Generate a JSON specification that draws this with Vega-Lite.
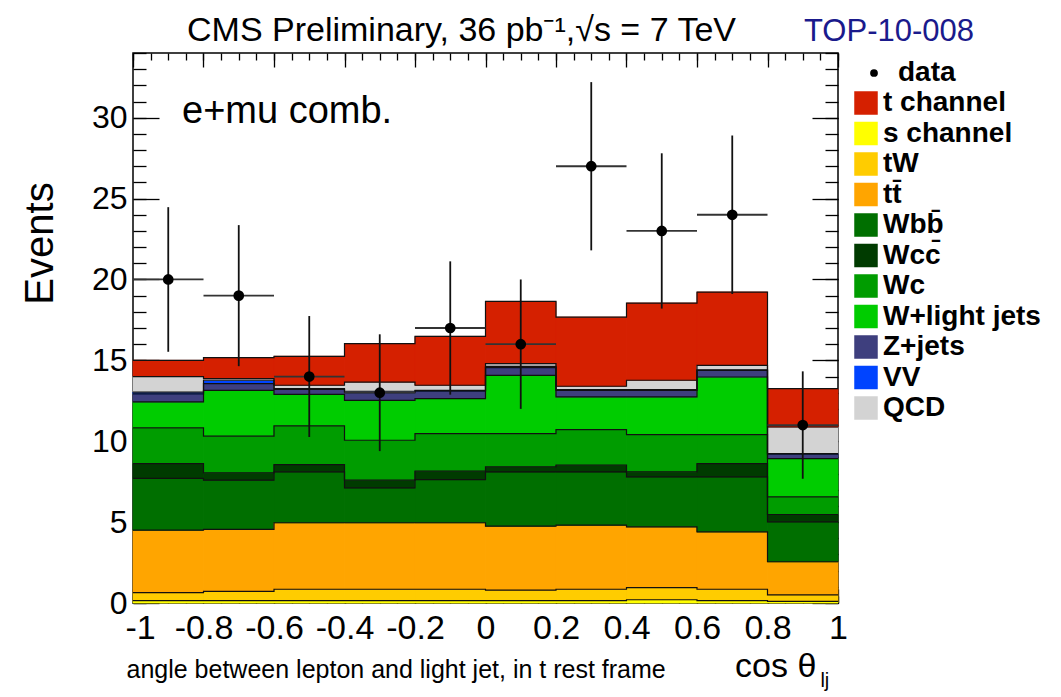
{
  "$schema": "https://vega.github.io/schema/vega-lite/v6.json",
  "width": 705,
  "height": 550,
  "autosize": {"type": "none"},
  "padding": {"left": 133, "top": 53, "right": 223, "bottom": 94},
  "background": "white",
  "config": {
    "view": {"stroke": "black", "strokeWidth": 1.5},
    "font": "Liberation Sans",
    "axis": {"grid": false, "domain": false, "tickColor": "black", "tickWidth": 1.3, "labelColor": "black", "titleColor": "black", "labelFont": "Liberation Sans", "titleFont": "Liberation Sans", "titleFontWeight": "normal", "labelFlush": false, "labelOverlap": false}
  },
  "datasets": {
    "mc": [
      {"lo": -1, "hi": -0.8, "s": 0.15, "tW": 0.49, "tt": 3.86, "Wbb": 3.20, "Wcc": 0.92, "Wc": 2.20, "Wl": 1.61, "Z": 0.50, "VV": 0.11, "QCD": 0.96, "t": 1.00},
      {"lo": -0.8, "hi": -0.6, "s": 0.15, "tW": 0.57, "tt": 3.83, "Wbb": 3.04, "Wcc": 0.45, "Wc": 2.27, "Wl": 2.84, "Z": 0.41, "VV": 0.21, "QCD": 0.10, "t": 1.30},
      {"lo": -0.6, "hi": -0.4, "s": 0.15, "tW": 0.70, "tt": 4.11, "Wbb": 3.15, "Wcc": 0.45, "Wc": 2.39, "Wl": 1.95, "Z": 0.30, "VV": 0.05, "QCD": 0.21, "t": 1.79},
      {"lo": -0.4, "hi": -0.2, "s": 0.15, "tW": 0.70, "tt": 4.11, "Wbb": 2.16, "Wcc": 0.47, "Wc": 2.47, "Wl": 2.47, "Z": 0.47, "VV": 0.09, "QCD": 0.57, "t": 2.37},
      {"lo": -0.2, "hi": 0, "s": 0.15, "tW": 0.70, "tt": 4.11, "Wbb": 2.67, "Wcc": 0.52, "Wc": 2.32, "Wl": 2.17, "Z": 0.46, "VV": 0.05, "QCD": 0.31, "t": 3.02},
      {"lo": 0, "hi": 0.2, "s": 0.15, "tW": 0.65, "tt": 3.95, "Wbb": 3.35, "Wcc": 0.32, "Wc": 2.05, "Wl": 3.60, "Z": 0.48, "VV": 0.08, "QCD": 0.17, "t": 3.84},
      {"lo": 0.2, "hi": 0.4, "s": 0.15, "tW": 0.70, "tt": 3.96, "Wbb": 3.29, "Wcc": 0.42, "Wc": 2.20, "Wl": 2.02, "Z": 0.41, "VV": 0.04, "QCD": 0.21, "t": 4.27},
      {"lo": 0.4, "hi": 0.6, "s": 0.20, "tW": 0.75, "tt": 3.76, "Wbb": 3.09, "Wcc": 0.30, "Wc": 2.31, "Wl": 2.33, "Z": 0.41, "VV": 0.04, "QCD": 0.58, "t": 4.77},
      {"lo": 0.6, "hi": 0.8, "s": 0.15, "tW": 0.70, "tt": 3.55, "Wbb": 3.40, "Wcc": 0.82, "Wc": 1.79, "Wl": 3.56, "Z": 0.41, "VV": 0.04, "QCD": 0.27, "t": 4.53},
      {"lo": 0.8, "hi": 1, "s": 0.10, "tW": 0.40, "tt": 2.05, "Wbb": 2.47, "Wcc": 0.45, "Wc": 1.09, "Wl": 2.37, "Z": 0.27, "VV": 0.04, "QCD": 1.64, "t": 2.37}
    ],
    "comps": [
      {"k": "s", "label": "s channel", "o": 1},
      {"k": "tW", "label": "tW", "o": 2},
      {"k": "tt", "label": "tt̄", "o": 3},
      {"k": "Wbb", "label": "Wbb̄", "o": 4},
      {"k": "Wcc", "label": "Wcc̄", "o": 5},
      {"k": "Wc", "label": "Wc", "o": 6},
      {"k": "Wl", "label": "W+light jets", "o": 7},
      {"k": "Z", "label": "Z+jets", "o": 8},
      {"k": "VV", "label": "VV", "o": 9},
      {"k": "QCD", "label": "QCD", "o": 10},
      {"k": "t", "label": "t channel", "o": 11}
    ],
    "obs": [
      {"lo": -1, "hi": -0.8, "x": -0.9, "n": 20, "elo": 15.53, "ehi": 24.47, "series": "data"},
      {"lo": -0.8, "hi": -0.6, "x": -0.7, "n": 19, "elo": 14.64, "ehi": 23.36, "series": "data"},
      {"lo": -0.6, "hi": -0.4, "x": -0.5, "n": 14, "elo": 10.26, "ehi": 17.74, "series": "data"},
      {"lo": -0.4, "hi": -0.2, "x": -0.3, "n": 13, "elo": 9.39, "ehi": 16.61, "series": "data"},
      {"lo": -0.2, "hi": 0, "x": -0.1, "n": 17, "elo": 12.88, "ehi": 21.12, "series": "data"},
      {"lo": 0, "hi": 0.2, "x": 0.1, "n": 16, "elo": 12, "ehi": 20, "series": "data"},
      {"lo": 0.2, "hi": 0.4, "x": 0.3, "n": 27, "elo": 21.80, "ehi": 32.20, "series": "data"},
      {"lo": 0.4, "hi": 0.6, "x": 0.5, "n": 23, "elo": 18.20, "ehi": 27.80, "series": "data"},
      {"lo": 0.6, "hi": 0.8, "x": 0.7, "n": 24, "elo": 19.10, "ehi": 28.90, "series": "data"},
      {"lo": 0.8, "hi": 1, "x": 0.9, "n": 11, "elo": 7.68, "ehi": 14.32, "series": "data"}
    ]
  },
  "resolve": {"axis": {"x": "independent", "y": "independent"}},
  "layer": [
    {
      "data": {"name": "mc"},
      "transform": [
        {"fold": ["s", "tW", "tt", "Wbb", "Wcc", "Wc", "Wl", "Z", "VV", "QCD", "t"], "as": ["k", "v"]},
        {"lookup": "k", "from": {"data": {"name": "comps"}, "key": "k", "fields": ["label", "o"]}},
        {"stack": "v", "groupby": ["lo"], "sort": [{"field": "o", "order": "ascending"}], "as": ["y0", "y1"]}
      ],
      "mark": {"type": "rect", "strokeWidth": 0.8},
      "encoding": {
        "x": {"field": "lo", "type": "quantitative", "scale": {"domain": [-1, 1], "nice": false, "zero": false},
          "axis": {"orient": "bottom", "values": [-1, -0.8, -0.6, -0.4, -0.2, 0, 0.2, 0.4, 0.6, 0.8, 1], "format": "~g", "labelExpr": "replace(datum.label, '−', '-')", "tickSize": -14, "labelPadding": 22, "labelFontSize": 34,
            "labelOffset": {"condition": {"test": "datum.value == -1", "value": 7}, "value": 0},
            "title": "angle between lepton and light jet, in t rest frame", "titleFontSize": 25, "titleX": -7, "titleY": 74, "titleAlign": "left", "titleBaseline": "alphabetic"}},
        "x2": {"field": "hi"},
        "y": {"field": "y0", "type": "quantitative", "scale": {"domain": [0, 34], "nice": false, "zero": true},
          "axis": {"orient": "left", "values": [0, 5, 10, 15, 20, 25, 30], "tickSize": -26, "labelPadding": 32, "labelFontSize": 32,
            "title": "Events", "titleFontSize": 40, "titleX": -81, "titleY": 190, "titleAngle": 270, "titleAlign": "center", "titleBaseline": "alphabetic"}},
        "y2": {"field": "y1"},
        "color": {"field": "label", "type": "nominal",
          "scale": {"domain": ["t channel", "s channel", "tW", "tt̄", "Wbb̄", "Wcc̄", "Wc", "W+light jets", "Z+jets", "VV", "QCD"],
            "range": ["#d52000", "#ffff00", "#ffcc00", "#ffa500", "#006f00", "#003b00", "#009c00", "#00cc00", "#3e3f7e", "#0044ff", "#d3d3d3"]},
          "legend": {"orient": "none", "legendX": 719, "legendY": 36, "title": null, "padding": 0, "labelFont": "Liberation Sans", "labelFontSize": 28, "labelFontWeight": "bold", "labelColor": "black", "labelLimit": 400, "labelOffset": 3, "symbolType": "square", "symbolSize": 484, "symbolStrokeColor": "#555555", "symbolStrokeWidth": 1.5, "symbolOpacity": 1, "rowPadding": 2.5}},
        "stroke": {"field": "label", "type": "nominal",
          "scale": {"domain": ["t channel", "s channel", "tW", "tt̄", "Wbb̄", "Wcc̄", "Wc", "W+light jets", "Z+jets", "VV", "QCD"],
            "range": ["#d52000", "#ffff00", "#ffcc00", "#ffa500", "#006f00", "#003b00", "#009c00", "#00cc00", "#3e3f7e", "#0044ff", "#d3d3d3"]},
          "legend": null}
      }
    },
    {
      "data": {"name": "mc"},
      "transform": [
        {"fold": ["s", "tW", "tt", "Wbb", "Wcc", "Wc", "Wl", "Z", "VV", "QCD", "t"], "as": ["k", "v"]},
        {"lookup": "k", "from": {"data": {"name": "comps"}, "key": "k", "fields": ["label", "o"]}},
        {"stack": "v", "groupby": ["lo"], "sort": [{"field": "o", "order": "ascending"}], "as": ["y0", "y1"]},
        {"fold": ["lo", "hi"], "as": ["edge", "xe"]}
      ],
      "mark": {"type": "line", "color": "#111111", "strokeWidth": 1.2},
      "encoding": {
        "x": {"field": "xe", "type": "quantitative", "scale": {"domain": [-1, 1], "nice": false, "zero": false}, "axis": null},
        "y": {"field": "y1", "type": "quantitative", "scale": {"domain": [0, 34], "nice": false, "zero": true}, "axis": null},
        "detail": {"field": "k", "type": "nominal"},
        "order": [{"field": "lo", "type": "quantitative"}, {"field": "edge", "type": "nominal", "sort": "descending"}]
      }
    },
    {
      "data": {"name": "obs"},
      "mark": {"type": "rule", "color": "#333333", "strokeWidth": 1.8},
      "encoding": {
        "x": {"field": "lo", "type": "quantitative", "scale": {"domain": [-1, 1], "nice": false, "zero": false},
          "axis": {"orient": "bottom", "values": [-1, -0.95, -0.9, -0.85, -0.8, -0.75, -0.7, -0.65, -0.6, -0.55, -0.5, -0.45, -0.4, -0.35, -0.3, -0.25, -0.2, -0.15, -0.1, -0.05, 0, 0.05, 0.1, 0.15, 0.2, 0.25, 0.3, 0.35, 0.4, 0.45, 0.5, 0.55, 0.6, 0.65, 0.7, 0.75, 0.8, 0.85, 0.9, 0.95, 1], "tickSize": -7, "labels": false, "title": null}},
        "x2": {"field": "hi"},
        "y": {"field": "n", "type": "quantitative", "scale": {"domain": [0, 34], "nice": false, "zero": true},
          "axis": {"orient": "left", "values": [0, 1, 2, 3, 4, 5, 6, 7, 8, 9, 10, 11, 12, 13, 14, 15, 16, 17, 18, 19, 20, 21, 22, 23, 24, 25, 26, 27, 28, 29, 30, 31, 32, 33, 34], "tickSize": -13, "labels": false, "title": null}}
      }
    },
    {
      "data": {"name": "obs"},
      "mark": {"type": "rule", "color": "#111111", "strokeWidth": 1.8},
      "encoding": {
        "x": {"field": "x", "type": "quantitative", "scale": {"domain": [-1, 1], "nice": false, "zero": false},
          "axis": {"orient": "top", "values": [-1, -0.8, -0.6, -0.4, -0.2, 0, 0.2, 0.4, 0.6, 0.8, 1], "tickSize": -14, "labels": false, "title": null}},
        "y": {"field": "elo", "type": "quantitative", "scale": {"domain": [0, 34], "nice": false, "zero": true},
          "axis": {"orient": "right", "values": [0, 5, 10, 15, 20, 25, 30], "tickSize": -26, "labels": false, "title": null}},
        "y2": {"field": "ehi"}
      }
    },
    {
      "data": {"name": "obs"},
      "mark": {"type": "point", "filled": true, "color": "black", "opacity": 1, "size": 115},
      "encoding": {
        "x": {"field": "x", "type": "quantitative", "scale": {"domain": [-1, 1], "nice": false, "zero": false},
          "axis": {"orient": "top", "values": [-1, -0.95, -0.9, -0.85, -0.8, -0.75, -0.7, -0.65, -0.6, -0.55, -0.5, -0.45, -0.4, -0.35, -0.3, -0.25, -0.2, -0.15, -0.1, -0.05, 0, 0.05, 0.1, 0.15, 0.2, 0.25, 0.3, 0.35, 0.4, 0.45, 0.5, 0.55, 0.6, 0.65, 0.7, 0.75, 0.8, 0.85, 0.9, 0.95, 1], "tickSize": -7, "labels": false, "title": null}},
        "y": {"field": "n", "type": "quantitative", "scale": {"domain": [0, 34], "nice": false, "zero": true},
          "axis": {"orient": "right", "values": [0, 1, 2, 3, 4, 5, 6, 7, 8, 9, 10, 11, 12, 13, 14, 15, 16, 17, 18, 19, 20, 21, 22, 23, 24, 25, 26, 27, 28, 29, 30, 31, 32, 33, 34], "tickSize": -13, "labels": false, "title": null}},
        "shape": {"field": "series", "type": "nominal", "scale": {"range": ["circle"]},
          "legend": {"orient": "none", "legendX": 727, "legendY": 6, "title": null, "padding": 0, "labelFont": "Liberation Sans", "labelFontSize": 28, "labelFontWeight": "bold", "labelColor": "black", "labelOffset": 10, "symbolSize": 60, "symbolFillColor": "black", "symbolStrokeColor": "black", "symbolOpacity": 1}}
      }
    },
    {
      "data": {"values": [{}]},
      "mark": {"type": "text", "text": "e+mu comb.", "font": "Liberation Sans", "fontSize": 38, "align": "left", "baseline": "alphabetic", "color": "black"},
      "encoding": {
        "x": {"datum": -0.861, "type": "quantitative", "scale": {"domain": [-1, 1], "nice": false, "zero": false}, "axis": null},
        "y": {"datum": 29.7, "type": "quantitative", "scale": {"domain": [0, 34], "nice": false, "zero": true}, "axis": null}
      }
    },
    {
      "data": {"values": [{}]},
      "mark": {"type": "text", "text": "CMS Preliminary, 36 pb⁻¹,√s = 7 TeV", "font": "Liberation Sans", "fontSize": 34, "align": "left", "baseline": "alphabetic", "color": "black"},
      "encoding": {
        "x": {"datum": -0.8468, "type": "quantitative", "scale": {"domain": [-1, 1], "nice": false, "zero": false}, "axis": null},
        "y": {"datum": 34.74, "type": "quantitative", "scale": {"domain": [0, 34], "nice": false, "zero": true}, "axis": null}
      }
    },
    {
      "data": {"values": [{}]},
      "mark": {"type": "text", "text": "TOP-10-008", "font": "Liberation Sans", "fontSize": 31, "align": "left", "baseline": "alphabetic", "color": "#1a1a8c"},
      "encoding": {
        "x": {"datum": 0.9035, "type": "quantitative", "scale": {"domain": [-1, 1], "nice": false, "zero": false}, "axis": null},
        "y": {"datum": 34.74, "type": "quantitative", "scale": {"domain": [0, 34], "nice": false, "zero": true}, "axis": null}
      }
    },
    {
      "data": {"values": [{}]},
      "mark": {"type": "text", "text": "cos θ", "font": "Liberation Sans", "fontSize": 34, "align": "left", "baseline": "alphabetic", "color": "black"},
      "encoding": {
        "x": {"datum": 0.708, "type": "quantitative", "scale": {"domain": [-1, 1], "nice": false, "zero": false}, "axis": null},
        "y": {"datum": -4.575, "type": "quantitative", "scale": {"domain": [0, 34], "nice": false, "zero": true}, "axis": null}
      }
    },
    {
      "data": {"values": [{}]},
      "mark": {"type": "text", "text": "lj", "font": "Liberation Sans", "fontSize": 20, "align": "left", "baseline": "alphabetic", "color": "black"},
      "encoding": {
        "x": {"datum": 0.95, "type": "quantitative", "scale": {"domain": [-1, 1], "nice": false, "zero": false}, "axis": null},
        "y": {"datum": -5.2, "type": "quantitative", "scale": {"domain": [0, 34], "nice": false, "zero": true}, "axis": null}
      }
    }
  ]
}
